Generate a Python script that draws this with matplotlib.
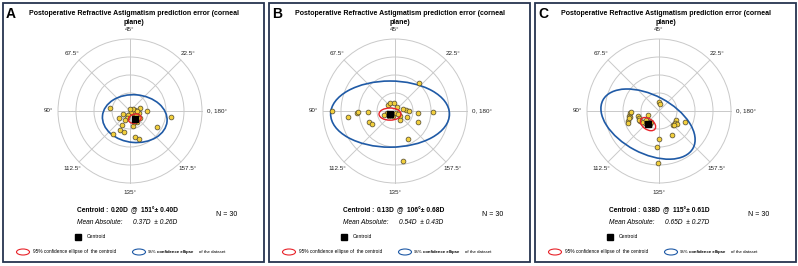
import numpy as np
import matplotlib.pyplot as plt
from matplotlib.patches import Ellipse, Rectangle, Circle

W, H = 798, 266

# --- Data ---
panel_letters = ['A', 'B', 'C']
title_text = 'Postoperative Refractive Astigmatism prediction error (corneal\nplane)'
angle_labels = ['0, 180°', '22.5°', '45°', '67.5°', '90°', '112.5°', '135°', '157.5°']
ring_radii = [0.4, 0.8, 1.2, 1.6]

# double-angle vector components of each eye's prediction error (D)
a_x = [-0.44, -0.16, -0.24, -0.18, -0.22, -0.38, -0.13, 0.06, 0.11, 0.07,
       0.22, 0.37, 0.21, 0.18, 0.16, 0.90, 0.59, 0.11, 0.19, 0.02,
       -0.04, 0.13, 0.06, 0.16, -0.06, 0.22, 0.00, -0.12, 0.13, 0.09]
a_y = [0.06, -0.07, -0.16, -0.31, -0.42, -0.51, -0.46, -0.33, 0.02, -0.04,
       0.07, 0.01, -0.05, -0.13, -0.25, -0.13, -0.36, -0.58, -0.62, -0.03,
       -0.09, -0.09, 0.04, 0.00, -0.15, -0.16, 0.04, -0.21, -0.20, -0.25]

b_x = [-1.40, -1.05, -0.85, -0.82, -0.59, -0.57, -0.51, -0.16, -0.11, -0.03,
       0.04, -0.18, -0.14, -0.05, 0.10, 0.11, 0.24, 0.30, 0.26, 0.50,
       0.50, 0.84, 0.54, 0.28, 0.18, -0.07, 0.02, -0.24, 0.18, 0.06]
b_y = [-0.01, -0.14, -0.04, -0.02, -0.02, -0.24, -0.29, 0.14, 0.18, 0.18,
       0.10, -0.04, -0.10, -0.10, -0.12, -0.20, 0.03, -0.01, -0.13, -0.05,
       -0.24, -0.02, 0.62, -0.62, -1.12, -0.07, -0.04, -0.08, 0.05, -0.07]

c_x = [0.01, 0.02, -0.64, -0.66, -0.64, -0.68, -0.70, -0.46, -0.44, -0.42,
       -0.31, -0.24, -0.27, -0.20, 0.38, 0.36, 0.30, 0.58, 0.28, -0.01,
       -0.05, -0.02, -0.38, -0.63, 0.39, -0.29, -0.18, -0.45, -0.67, 0.33]
c_y = [0.19, 0.16, -0.05, -0.10, -0.13, -0.22, -0.27, -0.10, -0.16, -0.22,
       -0.27, -0.08, -0.23, -0.29, -0.19, -0.27, -0.32, -0.24, -0.53, -0.62,
       -0.81, -1.16, -0.24, -0.02, -0.29, -0.19, -0.24, -0.19, -0.16, -0.30]

centroid_mag = [0.20, 0.13, 0.38]
centroid_axis = [151, 106, 115]
centroid_sd = [0.40, 0.68, 0.61]
mean_abs = [0.37, 0.54, 0.65]
mean_abs_sd = [0.26, 0.43, 0.27]
n_eyes = [30, 30, 30]

# 95% confidence ellipses: width (D), height (D), tilt (deg)
centroid_ell = [(0.29, 0.20, 15), (0.49, 0.27, 0), (0.38, 0.24, -35)]
dataset_ell = [(1.44, 1.06, -5), (2.64, 1.47, 0), (2.27, 1.29, -28)]

panels_x = [a_x, b_x, c_x]
panels_y = [a_y, b_y, c_y]

# --- Layout (pixel positions) ---
offsets = [0, 266, 532]
centers_x = [130, 129, 127]
center_y = 111
half = 90          # half size of each polar area in px
lim = 2.0          # data limit matching `half`

FONT = 'Liberation Sans'
YELLOW = '#f2cf3c'
BLUE = '#1f5aa6'
RED = '#e8232a'
GRID = '#c9c9c9'
FRAME = '#26344f'

fig = plt.figure(figsize=(W / 100, H / 100), dpi=100)

for i in range(3):
    ox = offsets[i]
    cxp = ox + centers_x[i]
    ax = fig.add_axes([(cxp - half) / W, (H - center_y - half) / H, 2 * half / W, 2 * half / H])
    ax.set_xlim(-lim, lim)
    ax.set_ylim(-lim, lim)
    ax.set_facecolor('none')
    ax.axis('off')

    # rings and spokes
    for r in ring_radii:
        ax.add_patch(Circle((0, 0), r, fill=False, ec=GRID, lw=0.7, zorder=1))
    rmax = ring_radii[-1]
    for k in range(8):
        t = np.deg2rad(45 * k)
        ax.plot([0, rmax * np.cos(t)], [0, rmax * np.sin(t)], color=GRID, lw=0.7, zorder=1)
        lr = 1.93 if k == 0 else 1.81
        ax.text(lr * np.cos(t), lr * np.sin(t), angle_labels[k], ha='center', va='center',
                fontsize=4.5, family=FONT, color='#222222')

    # centroid in double-angle space
    th = np.deg2rad(2 * centroid_axis[i])
    gx = centroid_mag[i] * np.cos(th)
    gy = centroid_mag[i] * np.sin(th)

    w, h, ang = dataset_ell[i]
    ax.add_patch(Ellipse((gx, gy), w, h, angle=ang, fill=False, ec=BLUE, lw=1.2, zorder=3))
    w, h, ang = centroid_ell[i]
    ax.add_patch(Ellipse((gx, gy), w, h, angle=ang, fill=False, ec=RED, lw=1.0, zorder=5))

    ax.scatter(panels_x[i], panels_y[i], s=12, c=YELLOW, edgecolors='#4d4630', linewidths=0.5, zorder=4)
    ax.plot(gx, gy, 's', ms=3.8, color='black', zorder=6)

# overlay in pixel coordinates for frames and text
ov = fig.add_axes([0, 0, 1, 1], zorder=10)
ov.set_xlim(0, W)
ov.set_ylim(H, 0)
ov.set_facecolor('none')
ov.axis('off')


def label(x, y, s, size, **kw):
    ov.text(x, y, s, ha='left', va='center', fontsize=size, family=FONT, **kw)


for i in range(3):
    ox = offsets[i]
    ov.add_patch(Rectangle((ox + 3, 3), 261, 259, fill=False, ec=FRAME, lw=1.3))
    ov.text(ox + 11, 14, panel_letters[i], ha='center', va='center', fontsize=10,
            fontweight='bold', family=FONT)
    ov.text(ox + 134, 18, title_text, ha='center', va='center', fontsize=5.0,
            fontweight='bold', family=FONT, linespacing=1.5)

    # summary statistics
    label(ox + 77, 210, 'Centroid :', 4.8, fontweight='bold')
    label(ox + 111, 210, f'{centroid_mag[i]:.2f}D', 4.8, fontweight='bold')
    label(ox + 131, 210, '@', 4.8, fontweight='bold')
    label(ox + 141, 210, f'{centroid_axis[i]}°± {centroid_sd[i]:.2f}D', 4.8, fontweight='bold')
    label(ox + 77, 222, 'Mean Absolute:', 4.8, style='italic')
    label(ox + 133, 222, f'{mean_abs[i]:.2f}D  ± {mean_abs_sd[i]:.2f}D', 4.8, style='italic')
    ov.text(ox + 227, 215, f'N = {n_eyes[i]}', ha='center', va='center', fontsize=5.0, family=FONT)

    # legend
    ov.add_patch(Rectangle((ox + 75, 234), 6, 6, color='black'))
    label(ox + 87, 237, 'Centroid', 3.6)
    ov.add_patch(Ellipse((ox + 23, 252), 13, 6, fill=False, ec=RED, lw=0.8))
    label(ox + 33, 252, '95% confidence ellipse of  the centroid', 3.4)
    ov.add_patch(Ellipse((ox + 139, 252), 13, 6, fill=False, ec=BLUE, lw=0.8))
    label(ox + 148, 252, '95%', 3.2)
    label(ox + 157, 252, 'confidence ellipse', 3.1, fontweight='bold')
    label(ox + 199, 252, 'of the dataset', 3.2)

fig.savefig('out.png', dpi=100)
